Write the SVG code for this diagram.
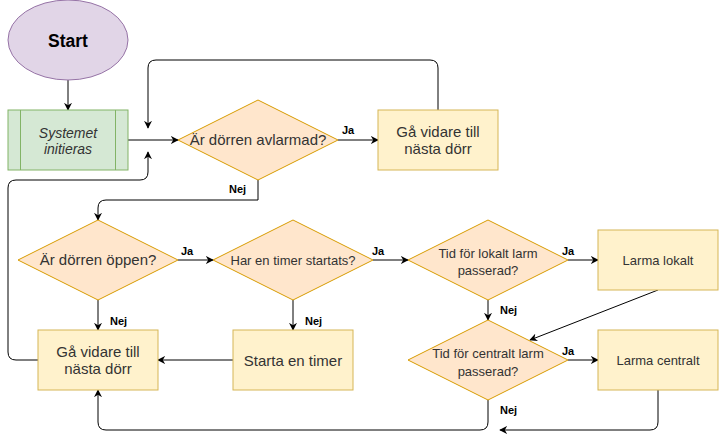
<svg xmlns="http://www.w3.org/2000/svg" width="719" height="439" viewBox="0 0 719 439">
<defs>
<marker id="ah" viewBox="0 0 10 10" refX="9" refY="5" markerWidth="8" markerHeight="8" markerUnits="userSpaceOnUse" orient="auto">
<path d="M0,0 L10,5 L0,10 L3,5 Z" fill="#000"/>
</marker>
<style>
.t{font-family:"Liberation Sans",Arial,sans-serif;font-size:13px;fill:#333;text-anchor:middle}
.big{font-size:15px}
.it{font-size:14px;font-style:italic}
.d{fill:#ffe6cc;stroke:#d79b00}
.b{fill:#fff2cc;stroke:#d6b656}
.l{font-family:"Liberation Sans",Arial,sans-serif;font-size:11px;font-weight:bold;fill:#000}
.c{fill:none;stroke:#000;stroke-width:1;marker-end:url(#ah)}
</style>
</defs>
<rect width="719" height="439" fill="#fff"/>
<g id="connectors">
<path class="c" d="M68,80 L68,110"/>
<path class="c" d="M128,140 L178,140"/>
<path class="c" d="M338,140 L378,140"/>
<path class="c" d="M438,110 L438,68 Q438,60 430,60 L156,60 Q148,60 148,68 L148,128"/>
<path class="c" d="M38,360 L16,360 Q8,360 8,352 L8,188 Q8,180 16,180 L140,180 Q148,180 148,172 L148,152"/>
<path class="c" d="M258,180 L258,200 L106,200 Q98,200 98,208 L98,220"/>
<path class="c" d="M178,260 L213,260"/>
<path class="c" d="M98,300 L98,330"/>
<path class="c" d="M293,300 L293,330"/>
<path class="c" d="M233,360 L158,360"/>
<path class="c" d="M373,260 L408,260"/>
<path class="c" d="M568,260 L598,260"/>
<path class="c" d="M488,300 L488,320"/>
<path class="c" d="M658,290 L530,340"/>
<path class="c" d="M568,360 L598,360"/>
<path class="c" d="M658,390 L658,422 Q658,430 650,430 L500,430"/>
<path class="c" d="M488,400 L488,422 Q488,430 480,430 L106,430 Q98,430 98,422 L98,390"/>
<text class="l" x="342" y="134">Ja</text>
<text class="l" x="229" y="193">Nej</text>
<text class="l" x="181" y="255">Ja</text>
<text class="l" x="110" y="325">Nej</text>
<text class="l" x="305" y="325">Nej</text>
<text class="l" x="372" y="255">Ja</text>
<text class="l" x="562" y="255">Ja</text>
<text class="l" x="500" y="314">Nej</text>
<text class="l" x="562" y="355">Ja</text>
<text class="l" x="500" y="414">Nej</text>
</g>
<g id="start">
<ellipse cx="68" cy="40" rx="60" ry="40" fill="#e1d5e7" stroke="#9673a6"/>
<text x="68" y="47" font-family="Liberation Sans,Arial,sans-serif" font-size="17.5" font-weight="bold" text-anchor="middle" fill="#000">Start</text>
</g>
<g id="init">
<rect x="8" y="110" width="120" height="60" fill="#d5e8d4" stroke="#82b366"/>
<line x1="20.5" y1="110" x2="20.5" y2="170" stroke="#82b366"/>
<line x1="115.5" y1="110" x2="115.5" y2="170" stroke="#82b366"/>
<text class="t it" x="68" y="138">Systemet</text>
<text class="t it" x="68" y="154">initieras</text>
</g>
<g id="d1">
<path class="d" d="M258,100 L338,140 L258,180 L178,140 Z"/>
<text class="t big" x="258" y="145">Är dörren avlarmad?</text>
</g>
<g id="next1">
<rect class="b" x="378" y="110" width="120" height="60"/>
<text class="t big" x="438" y="137">Gå vidare till</text>
<text class="t big" x="438" y="154">nästa dörr</text>
</g>
<g id="d2">
<path class="d" d="M98,220 L178,260 L98,300 L18,260 Z"/>
<text class="t big" x="98" y="265">Är dörren öppen?</text>
</g>
<g id="d3">
<path class="d" d="M293,220 L373,260 L293,300 L213,260 Z"/>
<text class="t" x="293" y="265">Har en timer startats?</text>
</g>
<g id="next2">
<rect class="b" x="38" y="330" width="120" height="60"/>
<text class="t big" x="98" y="357">Gå vidare till</text>
<text class="t big" x="98" y="374">nästa dörr</text>
</g>
<g id="timer">
<rect class="b" x="233" y="330" width="120" height="60"/>
<text class="t big" x="293" y="366">Starta en timer</text>
</g>
<g id="d4">
<path class="d" d="M488,220 L568,260 L488,300 L408,260 Z"/>
<text class="t" x="488" y="258">Tid för lokalt larm</text>
<text class="t" x="488" y="275">passerad?</text>
</g>
<g id="lokalt">
<rect class="b" x="598" y="230" width="120" height="60"/>
<text class="t" x="658" y="265">Larma lokalt</text>
</g>
<g id="d5">
<path class="d" d="M488,320 L568,360 L488,400 L408,360 Z"/>
<text class="t" x="488" y="358">Tid för centralt larm</text>
<text class="t" x="488" y="376">passerad?</text>
</g>
<g id="centralt">
<rect class="b" x="598" y="330" width="120" height="60"/>
<text class="t" x="658" y="365">Larma centralt</text>
</g>
</svg>
